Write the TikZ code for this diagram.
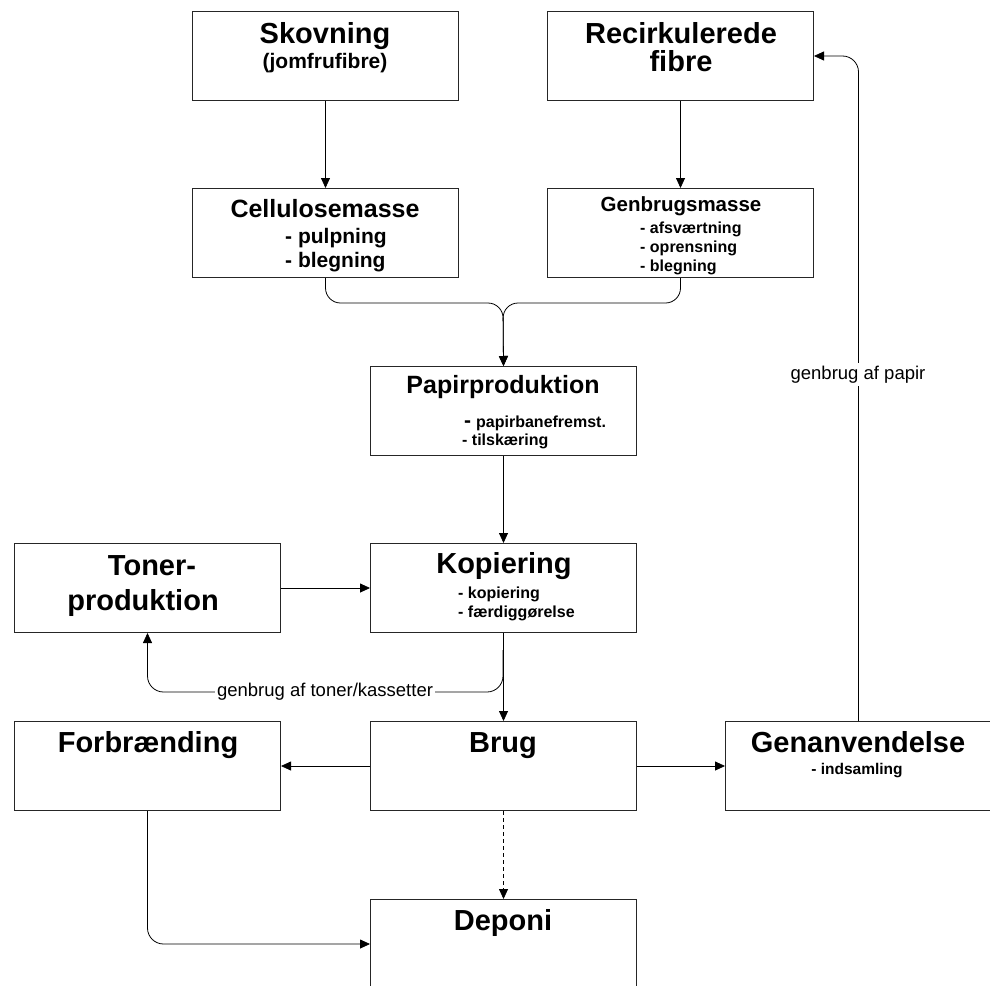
\documentclass[tikz,border=0pt]{standalone}
\usepackage{fontspec}
\setmainfont{Liberation Sans}
\usetikzlibrary{arrows.meta}
\begin{document}
\begin{tikzpicture}[x=1pt,y=-1pt,
  box/.style={draw=black!85, line width=1pt, minimum width=266pt, minimum height=89pt, inner sep=0pt, anchor=north west},
  conn/.style={draw=black, line width=0.8pt},
  arr/.style={conn, -{Triangle[length=10pt,width=9pt]}},
  ttl/.style={inner sep=0pt, anchor=base, font=\bfseries\fontsize{29}{33}\selectfont},
  mid/.style={inner sep=0pt, anchor=base, font=\bfseries\fontsize{25}{29}\selectfont},
  sub/.style={inner sep=0pt, anchor=base west, font=\bfseries\fontsize{16}{19}\selectfont},
  lbl/.style={inner sep=2pt, fill=white, font=\fontsize{18.5}{21}\selectfont}]
\fill[white] (0,0) rectangle (990,985);
\useasboundingbox (0,0) rectangle (990,985);

% boxes
\node[box] (skov) at (192,11) {};
\node[box] (recirc) at (547,11) {};
\node[box] (cell) at (192,188) {};
\node[box] (genm) at (547,188) {};
\node[box] (papir) at (370,366) {};
\node[box] (toner) at (14,543) {};
\node[box] (kop) at (370,543) {};
\node[box] (forb) at (14,721) {};
\node[box] (brug) at (370,721) {};
\node[box] (genanv) at (725,721) {};
\node[box] (depo) at (370,899) {};

% texts
\node[ttl] (t1) at (325,43) {Skovning};
\node[inner sep=0pt, anchor=base, font=\bfseries\fontsize{21}{24}\selectfont] (t1b) at (325,68) {(jomfrufibre)};
\node[ttl] (t2) at (681,43) {Recirkulerede};
\node[ttl] (t2b) at (681,71) {fibre};
\node[mid] (t3) at (325,217) {Cellulosemasse};
\node[sub, font=\bfseries\fontsize{21}{24}\selectfont] (t3a) at (285,243) {- pulpning};
\node[sub, font=\bfseries\fontsize{21}{24}\selectfont] (t3b) at (285,267) {- blegning};
\node[inner sep=0pt, anchor=base, font=\bfseries\fontsize{20.5}{24}\selectfont] (t4) at (681,211) {Genbrugsmasse};
\node[sub] (t4a) at (640,233) {- afsværtning};
\node[sub] (t4b) at (640,252) {- oprensning};
\node[sub] (t4c) at (640,271) {- blegning};
\node[mid] (t5) at (503,393) {Papirproduktion};
\node[sub, font=\bfseries\fontsize{21}{24}\selectfont] (t5d) at (464,427) {-};
\node[sub] (t5a) at (476,427) {papirbanefremst.};
\node[sub] (t5b) at (462,445) {- tilskæring};
\node[ttl] (t6) at (504,573) {Kopiering};
\node[sub] (t6a) at (458,598) {- kopiering};
\node[sub] (t6b) at (458,617) {- færdiggørelse};
\node[ttl] (t7) at (152,575) {Toner-};
\node[ttl] (t7b) at (143,610) {produktion};
\node[ttl] (t8) at (148,752) {Forbrænding};
\node[ttl] (t9) at (503,752) {Brug};
\node[ttl] (t10) at (858,752) {Genanvendelse};
\node[inner sep=0pt, anchor=base, font=\bfseries\fontsize{15.5}{18}\selectfont] (t10a) at (857,774) {- indsamling};
\node[ttl] (t11) at (503,930) {Deponi};

% connectors
\coordinate (fork) at (503,303);
\draw[arr] (skov) -- (cell);
\draw[arr] (recirc) -- (genm);
\draw[arr, rounded corners=15pt] (cell.south) |- (fork) -- (papir.north);
\draw[arr, rounded corners=15pt] (genm.south) |- (fork) -- (papir.north);
\draw[arr] (papir) -- (kop);
\draw[arr] (toner) -- (kop);
\draw[arr] (kop) -- (brug);
\coordinate (tb) at (503,650);
\coordinate (tc) at (503,692);
\draw[arr, rounded corners=16pt] (tb) -- (tc) -| (toner.south);
\node[lbl] (l1) at (325,692) {genbrug af toner/kassetter};
\draw[arr] (brug) -- (forb);
\draw[arr] (brug) -- (genanv);
\draw[arr, dashed, dash pattern=on 4pt off 3pt] (brug) -- (depo);
\draw[arr, rounded corners=16pt] (forb.south) |- (depo.west);
\draw[arr, rounded corners=16pt] (genanv.north) |- (recirc.east);
\node[lbl, anchor=base, inner sep=3pt] (l2) at (858,379) {genbrug af papir};
\end{tikzpicture}
\end{document}
